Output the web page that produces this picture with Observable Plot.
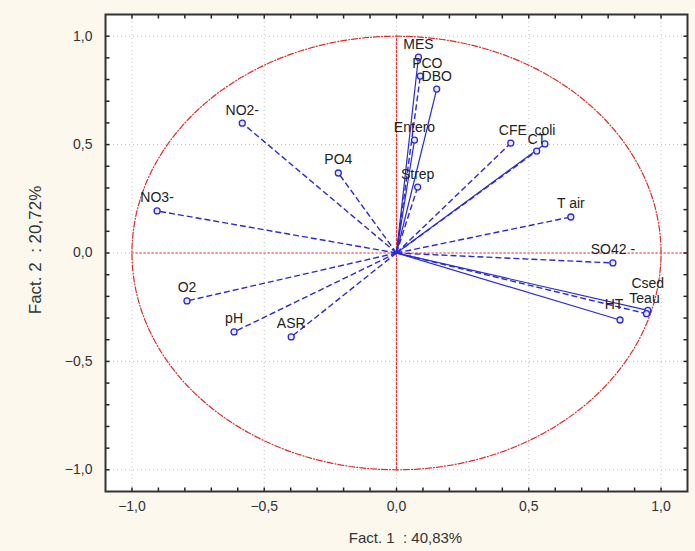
<!DOCTYPE html>
<html>
<head>
<meta charset="utf-8">
<script src="https://cdn.jsdelivr.net/npm/d3@7"></script>
<script src="https://cdn.jsdelivr.net/npm/@observablehq/plot@0.6"></script>
<style>
  html, body { margin: 0; padding: 0; background: #fcf8ee; }
  #chart svg { display: block; background: #fcf8ee; }
</style>
</head>
<body>
<div id="chart"></div>
<script>
// ---- data ----
const variables = ["MES", "PCO", "DBO", "Entero", "Strep", "CFE", "CT", "coli", "T air", "SO42 -", "Csed", "Teau", "HT", "NO2-", "PO4", "NO3-", "O2", "pH", "ASR"];
const fact1 = [0.083, 0.090, 0.152, 0.068, 0.080, 0.432, 0.530, 0.561, 0.659, 0.818, 0.950, 0.945, 0.845, -0.583, -0.220, -0.905, -0.792, -0.614, -0.398];
const fact2 = [0.903, 0.816, 0.756, 0.521, 0.304, 0.507, 0.470, 0.503, 0.166, -0.046, -0.265, -0.280, -0.309, 0.599, 0.369, 0.194, -0.221, -0.364, -0.387];
const majorTicks = [-1, -0.5, 0, 0.5, 1];
const minorTicks = [-1, -0.9, -0.8, -0.7, -0.6, -0.5, -0.4, -0.3, -0.2, -0.1, 0, 0.1, 0.2, 0.3, 0.4, 0.5, 0.6, 0.7, 0.8, 0.9, 1];
const xTitle = "Fact. 1  : 40,83%";
const yTitle = "Fact. 2  : 20,72%";

const rows = variables.map((v, i) => ({name: v, f1: fact1[i], f2: fact2[i]}));
const solidNames = new Set(["MES", "DBO", "coli", "Csed", "HT", "Entero"]);
const solidRows = rows.filter(d => solidNames.has(d.name));
const dashedRows = rows.filter(d => !solidNames.has(d.name));

// label nudges (pixels) for crowded labels, like the reference
const nudges = {"Csed": [0, -27], "Teau": [-2, -15], "HT": [-6, -15], "PCO": [7, -13], "CT": [0, -12], "CFE": [2, -13]};
const plain = rows.filter(d => !(d.name in nudges));
const nudged = rows.filter(d => d.name in nudges);

// unit correlation circle (geometric reference)
const circle = d3.range(0, 361, 2).map(a => ({cx: Math.cos(a * Math.PI / 180), cy: Math.sin(a * Math.PI / 180)}));

const fmt = d => d3.format(".1f")(d).replace(".", ",");
const BLUE = "#2a2ad2";
const RED = "#e02a2a";
const FONT = "Liberation Sans, Arial, sans-serif";
const LO = -1.1, HI = 1.1;

// inward tick glyphs (drawn as custom dot symbols)
const tickSym = (dx, dy) => ({draw(ctx) { ctx.moveTo(0, 0); ctx.lineTo(dx, dy); }});
const tickMark = (data, x, y, dx, dy) => Plot.dot(data, {x, y, symbol: tickSym(dx, dy), stroke: "#222", strokeWidth: 1.5, fill: "none"});

const chart = Plot.plot({
  width: 695,
  height: 551,
  marginLeft: 105,
  marginRight: 8,
  marginTop: 14,
  marginBottom: 60,
  style: {fontFamily: FONT, background: "#fcf8ee"},
  x: {domain: [LO, HI], axis: null},
  y: {domain: [LO, HI], axis: null},
  marks: [
    Plot.frame({fill: "white", stroke: "none"}),
    Plot.gridX(majorTicks, {stroke: "#999", strokeOpacity: 0.6, strokeDasharray: "1,3"}),
    Plot.gridY(majorTicks, {stroke: "#999", strokeOpacity: 0.6, strokeDasharray: "1,3"}),
    Plot.ruleY([0], {x1: -1, x2: HI, stroke: RED, strokeDasharray: "2,2", strokeWidth: 1.2}),
    Plot.ruleX([0], {y1: -1, y2: 1, stroke: RED, strokeDasharray: "3,1", strokeWidth: 1.2}),
    Plot.line(circle, {x: "cx", y: "cy", stroke: RED, strokeWidth: 1.2, strokeDasharray: "6,2,1,2"}),
    Plot.link(dashedRows, {x1: 0, y1: 0, x2: "f1", y2: "f2", stroke: BLUE, strokeWidth: 1.4, strokeDasharray: "6,3"}),
    Plot.link(solidRows, {x1: 0, y1: 0, x2: "f1", y2: "f2", stroke: BLUE, strokeWidth: 1.2}),
    Plot.dot(rows, {x: "f1", y: "f2", r: 3, stroke: BLUE, strokeWidth: 1.3, fill: "#e8e8ff"}),
    Plot.text(plain, {x: "f1", y: "f2", text: "name", dy: -13, fontSize: 14, fill: "#222"}),
    ...nudged.map(d => Plot.text([d], {x: "f1", y: "f2", text: "name", dx: nudges[d.name][0], dy: nudges[d.name][1], fontSize: 14, fill: "#222"})),
    // axes: tick labels
    Plot.axisX(majorTicks, {anchor: "bottom", tickSize: 0, tickPadding: 10, tickFormat: fmt, fontSize: 14, fill: "#333"}),
    Plot.axisY(majorTicks, {anchor: "left", tickSize: 0, tickPadding: 13, tickFormat: fmt, fontSize: 14, fill: "#333"}),
    // inward minor ticks on all four sides
    tickMark(minorTicks, d => d, () => LO, 0, -4),
    tickMark(minorTicks, d => d, () => HI, 0, 4),
    tickMark(minorTicks, () => LO, d => d, 4, 0),
    tickMark(minorTicks, () => HI, d => d, -4, 0),
    Plot.frame({stroke: "#333", strokeWidth: 2}),
    // axis titles
    Plot.text([xTitle], {frameAnchor: "bottom", dy: 51, dx: 9, text: d => d, fontSize: 15, fill: "#333"}),
    Plot.text([yTitle], {frameAnchor: "left", textAnchor: "middle", dx: -70, dy: -3, rotate: -90, text: d => d, fontSize: 17, fill: "#333"})
  ]
});
document.getElementById("chart").appendChild(chart);
</script>
</body>
</html>
